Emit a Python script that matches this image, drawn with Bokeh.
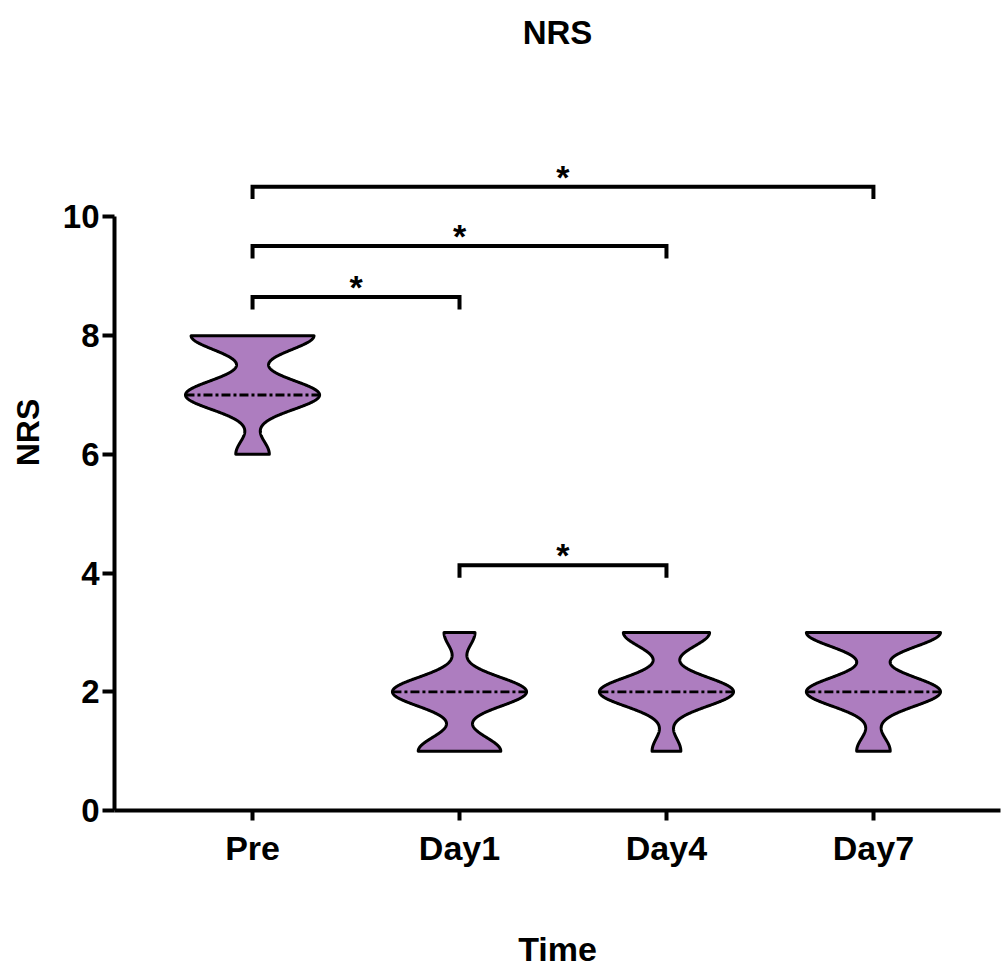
import numpy as np
from bokeh.plotting import figure
from bokeh.models import FixedTicker, Range1d
from bokeh.embed import file_html
from bokeh.resources import INLINE
from bokeh.core.properties import value

# ---------------- data ----------------
groups = ["Pre", "Day1", "Day4", "Day7"]
pre_scores = [6, 7, 8]
pre_counts = [3, 12, 11]
day1_scores = [1, 2, 3]
day1_counts = [8, 13, 3]
day4_scores = [1, 2, 3]
day4_counts = [3, 14, 9]
day7_scores = [1, 2, 3]
day7_counts = [3, 12, 12]
y_ticks = [0, 2, 4, 6, 8, 10]
comparisons = [("Pre", "Day1"), ("Pre", "Day4"), ("Pre", "Day7"), ("Day1", "Day4")]
bracket_heights = [8.65, 9.51, 10.51, 4.13]
bracket_labels = ["*", "*", "*", "*"]

# ---------------- style ----------------
FONT = "Liberation Sans"
FILL = "#AD7DBF"
BW = 0.245          # kernel bandwidth
HALF_MAX = 0.324    # max half-width in category units
DROP = 0.21

scores_list = [pre_scores, day1_scores, day4_scores, day7_scores]
counts_list = [pre_counts, day1_counts, day4_counts, day7_counts]

p = figure(width=1002, height=970, output_backend="svg", toolbar_location=None,
           x_range=Range1d(-0.667, 3.614), y_range=Range1d(0, 12.736),
           min_border_left=114, min_border_right=2, min_border_top=54,
           min_border_bottom=160, title="NRS")
p.outline_line_color = None
p.xgrid.visible = False
p.ygrid.visible = False
p.background_fill_color = "white"
p.border_fill_color = "white"

p.title.align = "center"
p.title.text_font = FONT
p.title.text_font_style = "bold"
p.title.text_font_size = "33px"
p.title.text_color = "black"
p.title.standoff = 8


def density(yy, sc, ct):
    d = np.zeros_like(yy)
    for s, c in zip(sc, ct):
        d += c * np.exp(-(yy - s) ** 2 / (2 * BW ** 2))
    return d


for i, (sc, ct) in enumerate(zip(scores_list, counts_list)):
    yy = np.linspace(min(sc), max(sc), 300)
    d = density(yy, sc, ct)
    dmax = d.max()
    w = d / dmax * HALF_MAX
    xs = np.concatenate([i + w, (i - w)[::-1]])
    ys = np.concatenate([yy, yy[::-1]])
    p.patch(xs, ys, fill_color=FILL, line_color="black", line_width=3, line_join="round")
    # median
    vals = np.repeat(sc, ct)
    med = float(np.median(vals))
    wm = density(np.array([med]), sc, ct)[0] / dmax * HALF_MAX
    p.segment(x0=[i - wm], x1=[i + wm], y0=[med], y1=[med], line_color="black",
              line_width=2.8, line_dash="9 3 3 3")

# significance brackets
for (a, b), h, lab in zip(comparisons, bracket_heights, bracket_labels):
    xa, xb = groups.index(a), groups.index(b)
    p.line([xa, xa, xb, xb], [h - DROP, h, h, h - DROP], line_color="black",
           line_width=4, line_join="miter")
    p.text(x=[(xa + xb) / 2], y=[h + 0.17], text=[lab], text_font=value(FONT),
           text_font_style="bold", text_font_size="34px", text_align="center",
           text_baseline="alphabetic", text_color="black")

# axes
xa_ = p.xaxis[0]
xa_.ticker = FixedTicker(ticks=list(range(len(groups))))
xa_.major_label_overrides = {i: g for i, g in enumerate(groups)}
xa_.major_label_text_font = FONT
xa_.major_label_text_font_style = "bold"
xa_.major_label_text_font_size = "34px"
xa_.major_label_text_color = "black"
xa_.major_label_standoff = 8
xa_.axis_line_width = 4
xa_.major_tick_line_width = 4
xa_.major_tick_out = 10
xa_.major_tick_in = 0
xa_.minor_tick_line_color = None
xa_.axis_label = "Time"
xa_.axis_label_text_font = FONT
xa_.axis_label_text_font_style = "bold"
xa_.axis_label_text_font_size = "34px"
xa_.axis_label_text_color = "black"
xa_.axis_label_standoff = 60

ya_ = p.yaxis[0]
ya_.ticker = FixedTicker(ticks=y_ticks)
ya_.bounds = (0, 10)
ya_.major_label_text_font = FONT
ya_.major_label_text_font_style = "bold"
ya_.major_label_text_font_size = "33px"
ya_.major_label_text_color = "black"
ya_.major_label_standoff = 3
ya_.axis_line_width = 4
ya_.major_tick_line_width = 4
ya_.major_tick_out = 12
ya_.major_tick_in = 0
ya_.minor_tick_line_color = None
ya_.axis_label = "NRS"
ya_.axis_label_text_font = FONT
ya_.axis_label_text_font_style = "bold"
ya_.axis_label_text_font_size = "32px"
ya_.axis_label_text_color = "black"
ya_.axis_label_standoff = 14

open("out.html", "w").write(file_html(p, INLINE))
